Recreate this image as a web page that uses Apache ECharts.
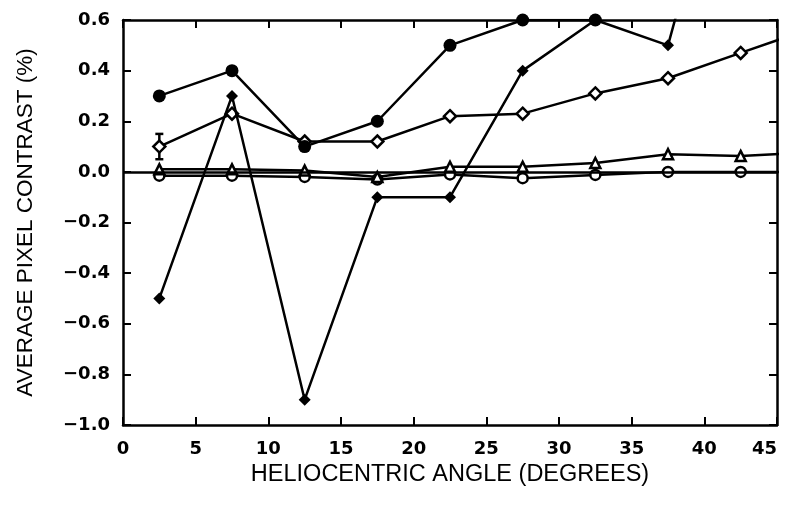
<!DOCTYPE html>
<html><head><meta charset="utf-8">
<script src="https://cdn.jsdelivr.net/npm/echarts@6/dist/echarts.min.js"></script>
<style>html,body{margin:0;padding:0;background:#fff}#c{width:785px;height:506px}</style>
</head><body><div id="c"></div>
<script>
const angles = [2.5, 7.5, 12.5, 17.5, 22.5, 27.5, 32.5, 37.5, 42.5, 47.5];
const filledCircle = [0.30, 0.40, 0.10, 0.20, 0.50, 0.60, 0.60, 0.95];
const filledDiamond = [-0.50, 0.30, -0.90, -0.10, -0.10, 0.40, 0.60, 0.50, 1.55];
const openDiamond = [0.10, 0.23, 0.12, 0.12, 0.22, 0.23, 0.31, 0.37, 0.47, 0.57];
const openDiamondErr = [0.05];
const triangle = [0.01, 0.01, 0.005, -0.02, 0.02, 0.02, 0.035, 0.07, 0.063, 0.077];
const openCircle = [-0.015, -0.015, -0.02, -0.03, -0.01, -0.025, -0.012, 0.0, 0.0, 0.0];
const xTicks = [0, 5, 10, 15, 20, 25, 30, 35, 40, 45];
const yTicks = [-1.0, -0.8, -0.6, -0.4, -0.2, 0.0, 0.2, 0.4, 0.6];

const pair = arr => arr.map((v, i) => [angles[i], v]);
const FONT = 'Liberation Sans';
const TICKFONT = 'DejaVu Sans';
const lineStyle = {color: '#000', width: 2.5};
function mk(name, data, symbol, size, fill, z) {
  return {
    name, type: 'line', data: pair(data), symbol, symbolSize: size,
    lineStyle, itemStyle: {color: fill, borderColor: '#000', borderWidth: fill === '#fff' ? 2.5 : 0},
    clip: true, z: z || 3, animation: false
  };
}
const axisLineStyle = {color: '#000', width: 2.5};
const tickStyle = {show: true, inside: true, length: 8, lineStyle: {color: '#000', width: 2}};
const chart = echarts.init(document.getElementById('c'), null, {renderer: 'canvas'});
chart.setOption({
  animation: false,
  grid: {left: 123, right: 8, top: 20, bottom: 81, show: false, containLabel: false, outerBoundsMode: 'none'},
  xAxis: [{
    type: 'value', min: 0, max: 45, interval: 5,
    axisLine: {show: true, onZero: false, lineStyle: axisLineStyle},
    axisTick: tickStyle,
    axisLabel: {color: '#000', fontFamily: TICKFONT, fontWeight: 'bold', fontSize: 18, margin: 15,
      alignMaxLabel: 'right',
      formatter: v => xTicks.includes(v) ? String(v) : ''},
    splitLine: {show: false},
    name: 'HELIOCENTRIC ANGLE (DEGREES)', nameLocation: 'middle', nameGap: 37,
    nameTextStyle: {color: '#000', fontFamily: FONT, fontSize: 23.5}
  }, {
    type: 'value', min: 0, max: 45, interval: 5, position: 'top',
    axisLine: {show: true, onZero: false, lineStyle: axisLineStyle},
    axisTick: tickStyle,
    axisLabel: {show: false}, splitLine: {show: false}
  }],
  yAxis: [{
    type: 'value', min: -1.0, max: 0.6, interval: 0.2,
    axisLine: {show: true, onZero: false, lineStyle: axisLineStyle},
    axisTick: tickStyle,
    axisLabel: {color: '#000', fontFamily: TICKFONT, fontWeight: 'bold', fontSize: 18, margin: 13,
      formatter: v => { const t = yTicks.find(x => Math.abs(x - v) < 1e-6); return t === undefined ? '' : (t < 0 ? '\u2212' + Math.abs(t).toFixed(1) : t.toFixed(1)); }},
    splitLine: {show: false},
    name: 'AVERAGE PIXEL CONTRAST (%)', nameLocation: 'middle', nameGap: 86, nameRotate: 90,
    nameTextStyle: {color: '#000', fontFamily: FONT, fontSize: 22.5}
  }, {
    type: 'value', min: -1.0, max: 0.6, interval: 0.2, position: 'right',
    axisLine: {show: true, onZero: false, lineStyle: axisLineStyle},
    axisTick: tickStyle,
    axisLabel: {show: false}, splitLine: {show: false}
  }],
  series: [
    Object.assign(mk('zero', [], 'none', 0, '#000', 1), {
      markLine: {silent: true, symbol: 'none', label: {show: false},
        lineStyle: {color: '#000', width: 2.5, type: 'solid'}, data: [{yAxis: 0}]}
    }),
    mk('openCircle', openCircle, 'circle', 10, '#fff', 3),
    mk('triangle', triangle, 'triangle', 10, '#fff', 4),
    mk('openDiamond', openDiamond, 'diamond', 12, '#fff', 5),
    mk('filledDiamond', filledDiamond, 'diamond', 12, '#000', 6),
    mk('filledCircle', filledCircle, 'circle', 13, '#000', 7),
    {
      type: 'custom', z: 4, animation: false,
      data: openDiamondErr.map((e, i) => [angles[i], openDiamond[i], e]),
      renderItem: (params, api) => {
        const x = api.value(0), y = api.value(1), e = api.value(2);
        const p1 = api.coord([x, y + e]), p2 = api.coord([x, y - e]);
        const st = {stroke: '#000', lineWidth: 2.5};
        return {type: 'group', children: [
          {type: 'line', shape: {x1: p1[0], y1: p1[1], x2: p2[0], y2: p2[1]}, style: st},
          {type: 'line', shape: {x1: p1[0] - 4, y1: p1[1], x2: p1[0] + 4, y2: p1[1]}, style: st},
          {type: 'line', shape: {x1: p2[0] - 4, y1: p2[1], x2: p2[0] + 4, y2: p2[1]}, style: st}
        ]};
      }
    }
  ]
});
</script></body></html>
